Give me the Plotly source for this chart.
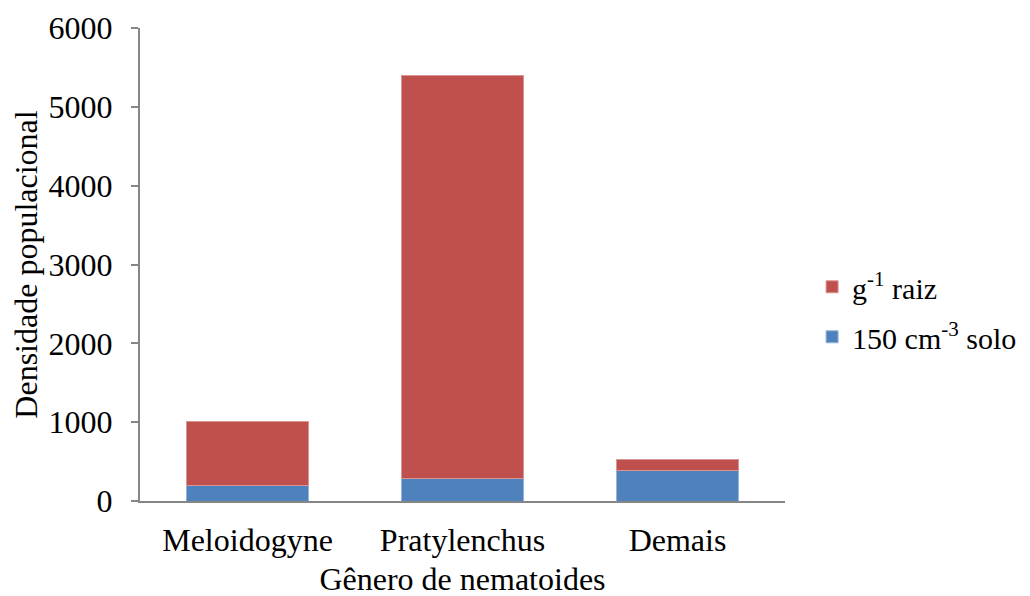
import plotly.graph_objects as go

categories = ["Meloidogyne", "Pratylenchus", "Demais"]
solo_values = [200, 290, 390]      # 150 cm-3 solo
raiz_values = [810, 5110, 140]     # g-1 raiz
y_ticks = [0, 1000, 2000, 3000, 4000, 5000, 6000]

font_family = "Liberation Serif"
fs = 32

fig = go.Figure()
fig.add_trace(go.Bar(
    x=categories, y=solo_values, name="150 cm<sup>-3</sup> solo",
    marker=dict(color="#4F81BD", line=dict(color="#95B3D7", width=1)),
    legendgroup="b", legendrank=2,
))
fig.add_trace(go.Bar(
    x=categories, y=raiz_values, name="g<sup>-1</sup> raiz",
    marker=dict(color="#C0504D", line=dict(color="#D99694", width=1)),
    legendgroup="a", legendrank=1,
))

fig.update_layout(
    barmode="stack",
    bargap=0.433,
    width=1030, height=596,
    margin=dict(l=132, r=253, t=20, b=103, autoexpand=False),
    plot_bgcolor="white", paper_bgcolor="white",
    font=dict(family=font_family, size=fs, color="black"),
    legend=dict(x=1.042, y=0.400, xanchor="left", yanchor="middle",
                traceorder="grouped", tracegroupgap=8,
                itemwidth=30,
                font=dict(size=30, family=font_family)),
    xaxis=dict(
        title=dict(text="Gênero de nematoides", font=dict(size=fs, family=font_family), standoff=10),
        showline=True, linecolor="#868686", linewidth=2,
        ticks="", tickfont=dict(size=fs, family=font_family),
        ticklabelstandoff=10, automargin=False,
    ),
    yaxis=dict(
        title=dict(text="Densidade populacional", font=dict(size=fs, family=font_family), standoff=6),
        range=[0, 6000], tickvals=y_ticks,
        showline=True, linecolor="#868686", linewidth=2,
        ticks="outside", ticklen=7, tickcolor="#868686", tickwidth=2,
        showgrid=False, zeroline=False, tickfont=dict(size=fs, family=font_family),
        ticklabelstandoff=12, automargin=False,
    ),
)

fig.write_html("out.html")
